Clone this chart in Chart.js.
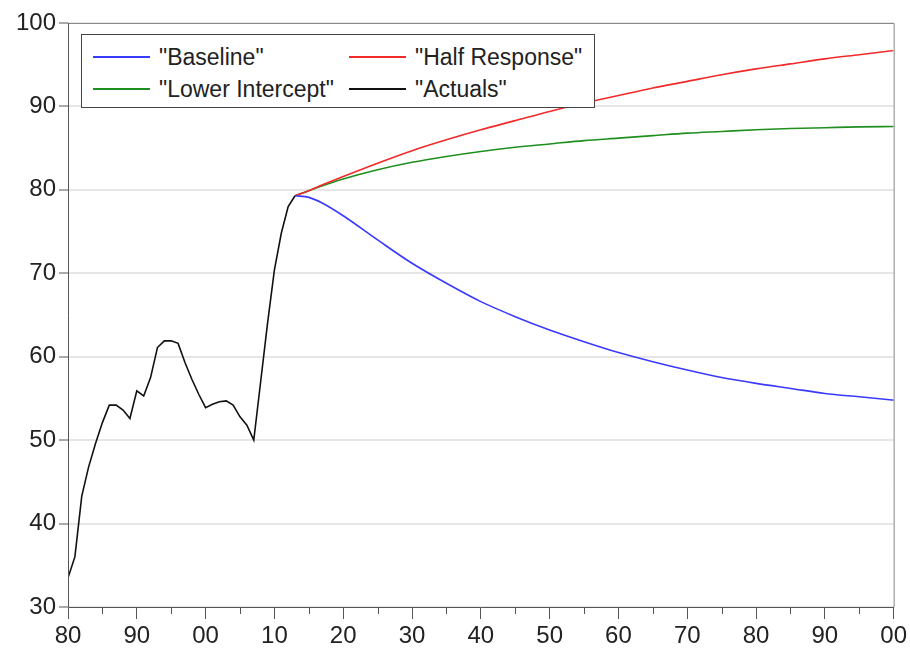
<!DOCTYPE html>
<html><head><meta charset="utf-8">
<script src="https://cdn.jsdelivr.net/npm/chart.js@4.4.1/dist/chart.umd.min.js"></script>
<style>
html,body{margin:0;padding:0;background:#fff;}
#wrap{position:relative;width:910px;height:652px;}
#c{width:910px;height:652px;display:block;}
#legend{position:absolute;left:81px;top:34px;width:512px;height:72px;border:1px solid #444;background:#fff;font-family:"Liberation Sans",Arial,sans-serif;font-size:23px;color:#222;}
.item{position:absolute;display:flex;align-items:center;white-space:nowrap;height:26px;}
.swatch{width:57px;height:0;border-top:2px solid;margin-right:9px;}
</style></head>
<body><div id="wrap"><canvas id="c" width="910" height="652"></canvas><div id="legend"></div></div>
<script>
// ---- data ----
const seriesLabels = ['"Baseline"', '"Half Response"', '"Lower Intercept"', '"Actuals"'];
const seriesColors = ['#3a3aff', '#f22a2a', '#1f8f1f', '#111111'];

const actualYears = [1980,1981,1982,1983,1984,1985,1986,1987,1988,1989,1990,1991,1992,1993,1994,1995,1996,1997,1998,1999,2000,2001,2002,2003,2004,2005,2006,2007,2008,2009,2010,2011,2012,2013];
const actualValues = [33.5,36.0,43.3,46.8,49.6,52.1,54.2,54.2,53.6,52.6,55.9,55.3,57.5,61.1,61.9,61.9,61.6,59.3,57.3,55.5,53.9,54.3,54.6,54.7,54.2,52.8,51.8,50.0,57.0,64.0,70.4,74.8,78.0,79.3];

const forecastYears = [2013,2015,2017,2020,2025,2030,2035,2040,2045,2050,2055,2060,2065,2070,2075,2080,2085,2090,2095,2100];
const baselineValues = [79.3,79.1,78.4,76.9,74.0,71.2,68.8,66.6,64.8,63.2,61.8,60.5,59.4,58.4,57.5,56.8,56.2,55.6,55.2,54.8];
const halfResponseValues = [79.3,79.9,80.6,81.6,83.2,84.7,86.0,87.2,88.3,89.4,90.4,91.3,92.2,93.0,93.8,94.5,95.1,95.7,96.2,96.7];
const lowerInterceptValues = [79.3,79.9,80.5,81.3,82.4,83.3,84.0,84.6,85.1,85.5,85.9,86.2,86.5,86.8,87.0,87.2,87.35,87.45,87.55,87.6];

const yTickValues = [30,40,50,60,70,80,90,100];
const xMajorStep = 10;
const minorTickYears = [1985,1995,2005,2015,2025,2035,2045,2055,2065,2075,2085,2095];

// ---- build ----
const pts = (xs, ys) => xs.map((x, i) => ({x, y: ys[i]}));
const FONT = '"Liberation Sans", Arial, sans-serif';

const framePlugin = {
  id: 'frame',
  afterDatasetsDraw(chart) {
    const {ctx, chartArea: a, scales: {x}} = chart;
    ctx.save();
    ctx.lineWidth = 1;
    ctx.strokeStyle = '#888';
    ctx.beginPath();
    ctx.moveTo(a.left, a.top + 0.5); ctx.lineTo(a.right + 0.5, a.top + 0.5);
    ctx.lineTo(a.right + 0.5, a.bottom);
    ctx.stroke();
    ctx.strokeStyle = '#555';
    ctx.beginPath();
    ctx.moveTo(a.left + 0.5, a.top); ctx.lineTo(a.left + 0.5, a.bottom + 0.5); ctx.lineTo(a.right + 0.5, a.bottom + 0.5);
    minorTickYears.forEach(v => {
      const px = Math.round(x.getPixelForValue(v)) + 0.5;
      ctx.moveTo(px, a.bottom); ctx.lineTo(px, a.bottom + 7);
    });
    ctx.stroke();
    ctx.restore();
  }
};

const datasets = [
  {data: pts(forecastYears, baselineValues)},
  {data: pts(forecastYears, halfResponseValues)},
  {data: pts(forecastYears, lowerInterceptValues)},
  {data: pts(actualYears, actualValues)}
].map((d, i) => Object.assign(d, {
  label: seriesLabels[i],
  borderColor: seriesColors[i],
  backgroundColor: seriesColors[i],
  borderWidth: 1.6,
  pointRadius: 0,
  fill: false,
  cubicInterpolationMode: i < 3 ? 'monotone' : 'default',
  tension: 0
}));

new Chart(document.getElementById('c'), {
  type: 'line',
  data: {datasets},
  options: {
    responsive: false,
    animation: false,
    events: [],
    layout: {padding: {top: 23, right: 15, left: 0, bottom: 0}},
    plugins: {legend: {display: false}, tooltip: {enabled: false}},
    scales: {
      x: {
        type: 'linear', min: 1980, max: 2100,
        afterFit: s => { s.height = 45; },
        border: {display: false},
        grid: {drawOnChartArea: false, drawTicks: true, tickLength: 12, tickColor: '#555', lineWidth: 1},
        ticks: {stepSize: xMajorStep, padding: 3, color: '#222', font: {family: FONT, size: 24},
          maxRotation: 0, autoSkip: false,
          callback: v => String(v % 100).padStart(2, '0')}
      },
      y: {
        min: 30, max: 100,
        afterFit: s => { s.width = 68; },
        afterBuildTicks: s => { s.ticks = yTickValues.map(v => ({value: v})); },
        border: {display: false},
        grid: {color: '#e6e6e6', lineWidth: 2, tickColor: '#555', tickWidth: 1, tickLength: 9},
        ticks: {padding: 3, color: '#222', font: {family: FONT, size: 24}}
      }
    }
  },
  plugins: [framePlugin]
});

// ---- legend (2 columns, row-major) ----
const legend = document.getElementById('legend');
const legendPos = [[11, 9], [267, 9], [11, 41], [267, 41]];
seriesLabels.forEach((lab, i) => {
  const it = document.createElement('div');
  it.className = 'item';
  it.style.left = legendPos[i][0] + 'px';
  it.style.top = legendPos[i][1] + 'px';
  const sw = document.createElement('span');
  sw.className = 'swatch';
  sw.style.borderTopColor = seriesColors[i];
  const tx = document.createElement('span');
  tx.textContent = lab;
  it.appendChild(sw); it.appendChild(tx);
  legend.appendChild(it);
});
</script>
</body></html>
